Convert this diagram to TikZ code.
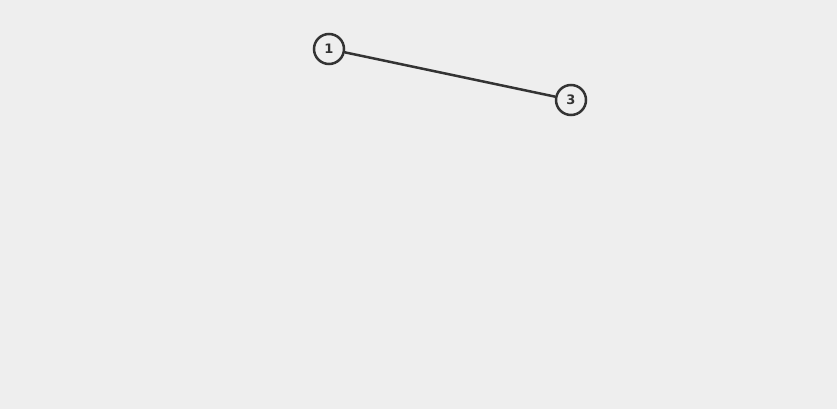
\documentclass[tikz,border=0pt]{standalone}
\usepackage{fontspec}
\setmainfont{DejaVu Sans}
\definecolor{bg}{HTML}{EEEEEE}
\definecolor{ink}{HTML}{333333}
\begin{document}
\begin{tikzpicture}[x=1pt,y=-1pt,
  vertex/.style={circle,draw=ink,line width=2.5pt,fill=bg,minimum size=30pt,inner sep=0pt,font=\fontsize{13}{14}\selectfont\bfseries,text=ink},
  edge/.style={draw=ink,line width=2.5pt}]
\fill[bg] (0,0) rectangle (837,409);
\useasboundingbox (0,0) rectangle (837,409);
\node[vertex] (n1) at (329,49) {1};
\node[vertex] (n3) at (571,100) {3};
\draw[edge] (n1) -- (n3);
\end{tikzpicture}
\end{document}
